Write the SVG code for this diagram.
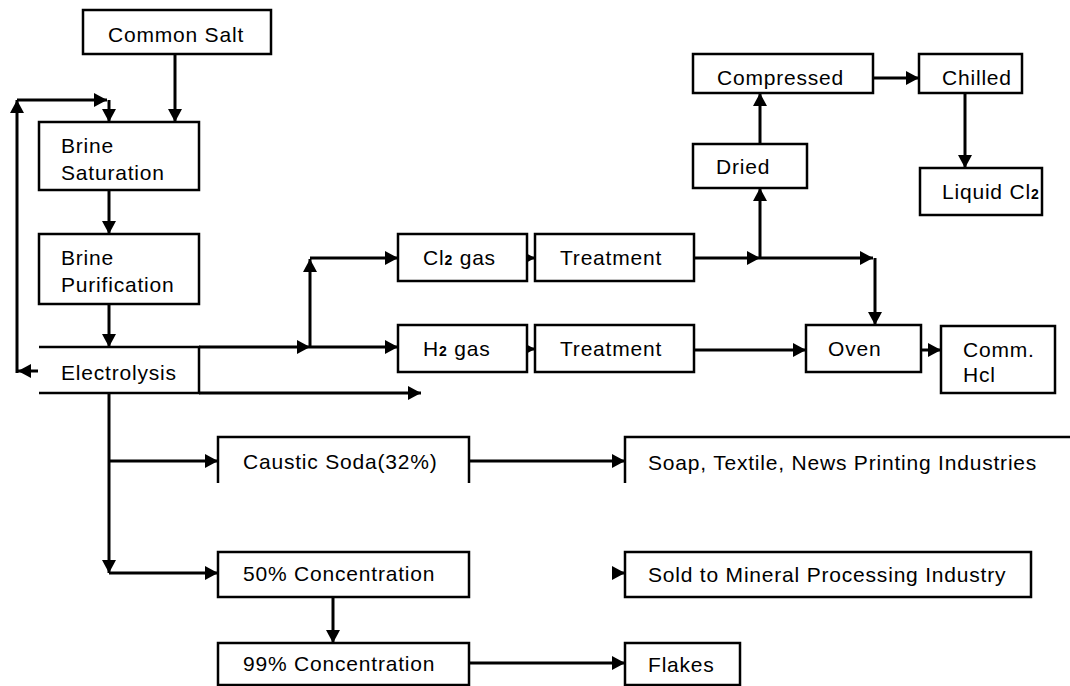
<svg xmlns="http://www.w3.org/2000/svg" width="1070" height="686" viewBox="0 0 1070 686">
<defs>
<marker id="ah" markerUnits="userSpaceOnUse" markerWidth="14" markerHeight="14" refX="13" refY="7" orient="auto">
<path d="M0,0 L13,7 L0,14 z" fill="#000"/>
</marker>
<style>
.box{fill:#fff;stroke:#000;stroke-width:2.5}
.open{fill:none;stroke:#000;stroke-width:2.5}
.t{font-family:"Liberation Sans",Arial,sans-serif;font-size:21px;letter-spacing:0.8px;fill:#000}
.sub{font-size:14px;font-weight:bold}
.c{fill:none;stroke:#000;stroke-width:3;marker-end:url(#ah)}
</style>
</defs>
<rect width="1070" height="686" fill="#fff"/>
<g id="connectors">
<path class="c" d="M38,371 H18"/>
<path class="c" d="M175,54 V122"/>
<path class="c" d="M17,373 V100"/>
<path class="c" d="M17,100 H107"/>
<path class="c" d="M109,100 V122"/>
<path class="c" d="M109,190 V234"/>
<path class="c" d="M109,304 V347"/>
<path class="c" d="M199,347 H310"/>
<path class="c" d="M310,347 H398"/>
<path class="c" d="M310,347 V259"/>
<path class="c" d="M310,258 H398"/>
<path class="c" d="M199,393 H421"/>
<path class="c" d="M109,393 V573"/>
<path class="c" d="M109,461 H218"/>
<path class="c" d="M109,573 H218"/>
<path class="c" d="M527,258 H535"/>
<path class="c" d="M527,349 H535"/>
<path class="c" d="M694,258 H760"/>
<path class="c" d="M760,258 H873"/>
<path class="c" d="M875,258 V325"/>
<path class="c" d="M760,258 V188"/>
<path class="c" d="M760,144 V93"/>
<path class="c" d="M873,78 H919"/>
<path class="c" d="M965,93 V168"/>
<path class="c" d="M694,350 H806"/>
<path class="c" d="M921,350 H941"/>
<path class="c" d="M469,461 H625"/>
<path class="c" d="M612,573 H625"/>
<path class="c" d="M333,597 V643"/>
<path class="c" d="M469,663 H625"/>
</g>
<g id="common-salt"><rect class="box" x="83" y="10" width="188" height="44"/><text class="t" x="108" y="42">Common Salt</text></g>
<g id="brine-saturation"><rect class="box" x="39" y="122" width="160" height="68"/><text class="t" x="61" y="153">Brine</text><text class="t" x="61" y="180">Saturation</text></g>
<g id="brine-purification"><rect class="box" x="39" y="234" width="160" height="70"/><text class="t" x="61" y="265">Brine</text><text class="t" x="61" y="292">Purification</text></g>
<g id="electrolysis"><path class="open" d="M39,347 H199 V393 H39"/><text class="t" x="61" y="380">Electrolysis</text></g>
<g id="cl2-gas"><rect class="box" x="398" y="234" width="129" height="47"/><text class="t" x="423" y="265">Cl<tspan class="sub">2</tspan> gas</text></g>
<g id="treatment-1"><rect class="box" x="535" y="234" width="159" height="47"/><text class="t" x="560" y="265">Treatment</text></g>
<g id="h2-gas"><rect class="box" x="398" y="325" width="129" height="47"/><text class="t" x="423" y="356">H<tspan class="sub">2</tspan> gas</text></g>
<g id="treatment-2"><rect class="box" x="535" y="325" width="159" height="47"/><text class="t" x="560" y="356">Treatment</text></g>
<g id="compressed"><rect class="box" x="693" y="54" width="180" height="39"/><text class="t" x="717" y="85">Compressed</text></g>
<g id="chilled"><rect class="box" x="919" y="54" width="103" height="39"/><text class="t" x="942" y="85">Chilled</text></g>
<g id="dried"><rect class="box" x="693" y="144" width="114" height="44"/><text class="t" x="716" y="174">Dried</text></g>
<g id="liquid-cl2"><rect class="box" x="920" y="168" width="122" height="47"/><text class="t" x="942" y="199">Liquid Cl<tspan class="sub">2</tspan></text></g>
<g id="oven"><rect class="box" x="806" y="325" width="115" height="47"/><text class="t" x="828" y="356">Oven</text></g>
<g id="comm-hcl"><rect class="box" x="941" y="326" width="114" height="67"/><text class="t" x="963" y="357">Comm.</text><text class="t" x="963" y="382">Hcl</text></g>
<g id="caustic-soda"><path class="open" d="M218,483 V437 H469 V483"/><text class="t" x="243" y="469">Caustic Soda(32%)</text></g>
<g id="soap"><path class="open" d="M625,483 V437 H1070"/><text class="t" x="648" y="470">Soap, Textile, News Printing Industries</text></g>
<g id="conc-50"><rect class="box" x="218" y="552" width="251" height="45"/><text class="t" x="243" y="581">50% Concentration</text></g>
<g id="sold"><rect class="box" x="625" y="552" width="406" height="45"/><text class="t" x="648" y="582">Sold to Mineral Processing Industry</text></g>
<g id="conc-99"><rect class="box" x="218" y="643" width="251" height="42"/><text class="t" x="243" y="671">99% Concentration</text></g>
<g id="flakes"><rect class="box" x="625" y="643" width="115" height="42"/><text class="t" x="648" y="672">Flakes</text></g>
</svg>
